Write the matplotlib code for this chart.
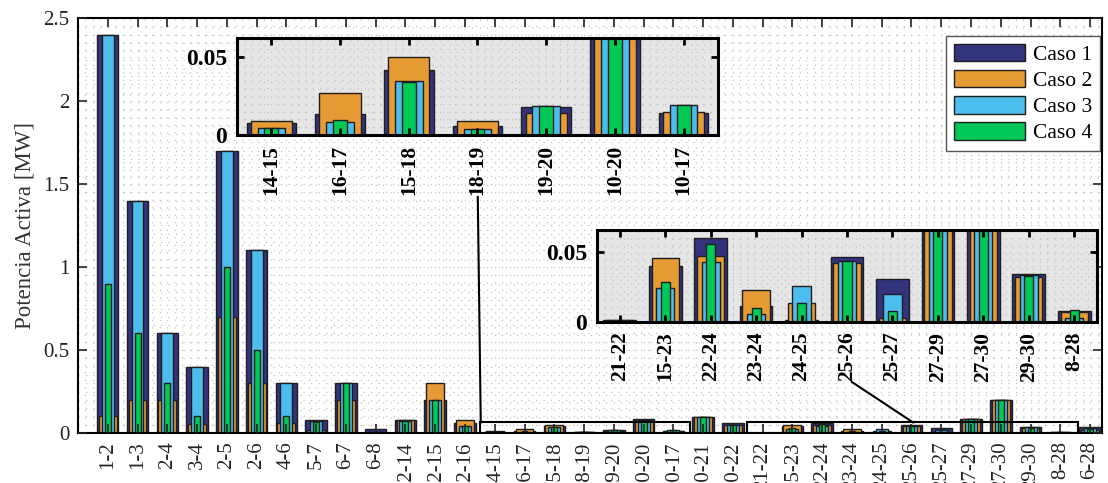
import numpy as np
import matplotlib
matplotlib.use('Agg')
import matplotlib.pyplot as plt
from matplotlib.patches import Rectangle
from matplotlib.ticker import FormatStrFormatter

plt.rcParams['font.family'] = ['Liberation Serif', 'DejaVu Serif']

# lineas del sistema
lineas = ['1-2', '1-3', '2-4', '3-4', '2-5', '2-6', '4-6', '5-7', '6-7', '6-8',
          '12-14', '12-15', '12-16', '14-15', '16-17', '15-18', '18-19', '19-20',
          '10-20', '10-17', '10-21', '10-22', '21-22', '15-23', '22-24', '23-24',
          '24-25', '25-26', '25-27', '27-29', '27-30', '29-30', '8-28', '6-28']

caso1 = [2.4, 1.4, 0.6, 0.4, 1.7, 1.1, 0.3, 0.08, 0.3, 0.024,
         0.078, 0.2, 0.06, 0.0074, 0.0134, 0.0415, 0.0055, 0.0177,
         0.087, 0.0143, 0.098, 0.058, 0.0015, 0.0402, 0.060, 0.0112,
         0.0017, 0.0466, 0.031, 0.087, 0.2, 0.0346, 0.0076, 0.036]
caso2 = [0.1, 0.2, 0.2, 0.056, 0.7, 0.3, 0.062, 0.02, 0.2, 0.003,
         0.08, 0.3, 0.076, 0.0091, 0.0266, 0.0496, 0.0087, 0.0138,
         0.075, 0.0147, 0.098, 0.048, 0.0015, 0.0456, 0.0476, 0.0227,
         0.0139, 0.0424, 0.0032, 0.085, 0.2, 0.0322, 0.0071, 0.02]
caso3 = [2.4, 1.4, 0.6, 0.4, 1.7, 1.1, 0.3, 0.07, 0.3, 0.004,
         0.072, 0.2, 0.045, 0.0043, 0.0083, 0.0345, 0.0038, 0.0187,
         0.08, 0.0191, 0.098, 0.048, 0.001, 0.0241, 0.0427, 0.0059,
         0.0259, 0.0441, 0.02, 0.082, 0.2, 0.0334, 0.0029, 0.028]
caso4 = [0.9, 0.6, 0.3, 0.1, 1.0, 0.5, 0.1, 0.066, 0.3, 0.004,
         0.072, 0.2, 0.045, 0.0047, 0.0094, 0.0338, 0.0038, 0.0187,
         0.08, 0.0191, 0.098, 0.048, 0.001, 0.0288, 0.0563, 0.0098,
         0.0139, 0.0437, 0.0076, 0.082, 0.2, 0.0327, 0.0083, 0.025]

casos = ['Caso 1', 'Caso 2', 'Caso 3', 'Caso 4']
colores = ['#32327d', '#e69b35', '#4cbdec', '#00c957']
anchos = [0.72, 0.6, 0.4, 0.2]

# indices de los zooms
zoom1 = list(range(13, 20))
zoom2 = list(range(22, 33))

W, H = 1108, 483
fig = plt.figure(figsize=(W / 100, H / 100), dpi=100)

def px_axes(x0, y0, x1, y1):
    return fig.add_axes([x0 / W, 1 - y1 / H, (x1 - x0) / W, (y1 - y0) / H])

def dotted_grid(a, xs, ys):
    for y in ys:
        a.axhline(y, color='#c4c4c4', lw=0.9, ls=(0, (1, 5)), zorder=0.5)
    for x in xs:
        a.axvline(x, color='#c4c4c4', lw=0.9, ls=(0, (1, 5)), zorder=0.5)

def barras(a, idx):
    pos = np.arange(len(idx))
    hs = []
    for k, serie in enumerate([caso1, caso2, caso3, caso4]):
        vals = [serie[i] for i in idx]
        h = a.bar(pos, vals, width=anchos[k], color=colores[k], edgecolor='#1e1e1e',
                  linewidth=1.0, label=casos[k], zorder=1.1 + 0.1 * k)
        hs.append(h)
    return hs

# ---- grafico principal
ax = px_axes(78, 18, 1102, 433)
hs = barras(ax, list(range(len(lineas))))
ax.set_xlim(-1, 33.4)
ax.set_ylim(0, 2.5)
dotted_grid(ax, np.arange(-0.75, 33.4, 0.25), np.arange(0.05, 2.5, 0.05))
ax.set_axisbelow(False)
ax.set_xticks(np.arange(len(lineas)))
ax.set_xticklabels(lineas, rotation=90)
ax.set_yticks(np.arange(0, 2.51, 0.5))
ax.yaxis.set_major_formatter(FormatStrFormatter('%g'))
ax.tick_params(direction='in', top=True, right=True, length=6.5, width=1.2,
               labelsize=15, pad=6, colors='#222222')
for s in ax.spines.values():
    s.set_linewidth(1.5)
ax.set_ylabel('Potencia Activa [MW]', fontsize=16.5, color='#333333', labelpad=6)

# recuadros de zoom y conectores
ax.add_patch(Rectangle((12.5, 0), 7.05, 0.064, fill=False, ec='k', lw=1.5, zorder=3))
ax.add_patch(Rectangle((21.46, 0), 11.14, 0.064, fill=False, ec='k', lw=1.5, zorder=3))
ax.plot([12.43, 12.53], [1.422, 0.064], color='k', lw=1.5, zorder=3)
ax.plot([25.0, 27.05], [0.307, 0.064], color='k', lw=1.5, zorder=3)

leg = ax.legend(handles=hs, loc='upper right', bbox_to_anchor=(1100 / W, 1 - 36 / H),
                bbox_transform=fig.transFigure, borderaxespad=0, fancybox=False,
                edgecolor='#555555', framealpha=1, fontsize=15.5, handlelength=3.3,
                handleheight=0.9, handletextpad=0.4, labelspacing=0.22, borderpad=0.35)
leg.get_frame().set_linewidth(1.0)

# ---- insets
def inset(x0, y0, x1, y1, idx, ytop, xstep, ystep):
    a = px_axes(x0, y0, x1, y1)
    a.set_facecolor('#e6e6e6')
    barras(a, idx)
    a.set_xlim(-0.5, len(idx) - 0.5)
    a.set_ylim(0, ytop)
    dotted_grid(a, np.arange(-0.5 + xstep, len(idx) - 0.5, xstep), np.arange(ystep, ytop, ystep))
    a.set_axisbelow(False)
    a.set_xticks(np.arange(len(idx)))
    a.set_xticklabels([lineas[i] for i in idx], rotation=90, fontweight='bold')
    a.set_yticks([0, 0.05])
    a.set_yticklabels(['0', '0.05'], fontweight='bold')
    a.tick_params(direction='in', top=True, right=True, length=5, width=2, pad=7)
    a.tick_params(axis='x', labelsize=15.5)
    a.tick_params(axis='y', labelsize=17)
    for s in a.spines.values():
        s.set_linewidth(2.2)
    return a

inset(237, 38, 718, 135, zoom1, 0.062, 0.1, 0.005)
inset(597, 230, 1097, 322, zoom2, 0.066, 0.15, 0.005)

fig.savefig('out.png', dpi=100)
